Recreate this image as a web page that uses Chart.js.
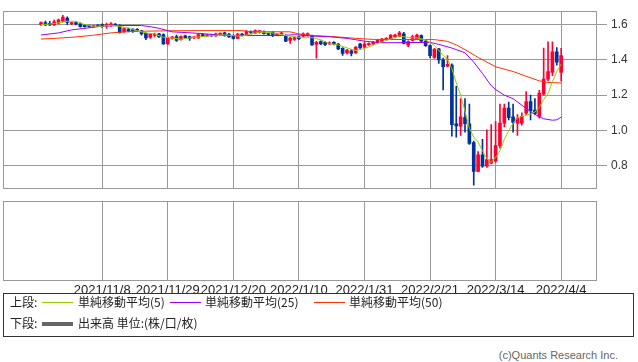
<!DOCTYPE html>
<html>
<head>
<meta charset="utf-8">
<script src="https://cdn.jsdelivr.net/npm/chart.js@4.4.1/dist/chart.umd.min.js"></script>
<style>
    body { margin: 0; background: #fff; width: 638px; height: 362px; position: relative; overflow: hidden;
           font-family: "Noto Sans CJK JP", "Noto Sans", sans-serif; color: #222; }
    #priceChart { position: absolute; left: 0; top: 0; }
    #volChart { position: absolute; left: 0; top: 195px; }
    .legend { position: absolute; left: 3px; top: 293px; width: 631px; height: 44px; border: 1px solid #333; box-sizing: border-box; }
    .lg { position: absolute; font-size: 12px; line-height: 14px; white-space: nowrap; }
    .ln { position: absolute; height: 1px; width: 31px; }
    .copy { position: absolute; right: 20px; top: 349px; font-size: 11px; color: #666; font-family: "Liberation Sans", sans-serif; }
</style>
</head>
<body>
<canvas id="priceChart" width="638" height="200"></canvas>
<canvas id="volChart" width="638" height="104"></canvas>

<div class="lg" style="left:10px;top:295px">上段:</div>
<div class="ln" style="left:42px;top:302px;background:#99cc00"></div>
<div class="lg" style="left:78px;top:295px">単純移動平均(5)</div>
<div class="ln" style="left:170px;top:302px;background:#9900ff"></div>
<div class="lg" style="left:205px;top:295px">単純移動平均(25)</div>
<div class="ln" style="left:314px;top:302px;background:#ff3300"></div>
<div class="lg" style="left:349px;top:295px">単純移動平均(50)</div>
<div class="lg" style="left:10px;top:316px">下段:</div>
<div class="ln" style="left:42px;top:322px;height:4px;background:#666"></div>
<div class="lg" style="left:78px;top:316px">出来高 単位:(株/口/枚)</div>
<div class="legend"></div>
<div class="copy">(c)Quants Research Inc.</div>

<script>
// x positions are trading-day indexes, 0 = first candle
const tickIdx = [14, 29, 44, 59, 74, 89, 104, 119];
const tickLabels = ['2021/11/8', '2021/11/29', '2021/12/20', '2022/1/10', '2022/1/31', '2022/2/21', '2022/3/14', '2022/4/4'];
const priceTicks = [0.8, 1.0, 1.2, 1.4, 1.6];

const opens = [1.600,1.612,1.607,1.598,1.608,1.620,1.637,1.605,1.612,1.605,
    1.598,1.594,1.590,1.595,1.600,1.591,1.595,1.602,1.595,1.560,
    1.575,1.573,1.572,1.564,1.550,1.527,1.538,1.547,1.543,1.490,
    1.522,1.532,1.515,1.536,1.532,1.525,1.525,1.543,1.536,1.540,
    1.536,1.543,1.553,1.545,1.538,1.522,1.546,1.541,1.560,1.552,
    1.556,1.560,1.549,1.556,1.542,1.546,1.538,1.510,1.516,1.530,
    1.534,1.537,1.535,1.488,1.504,1.500,1.490,1.500,1.490,1.465,
    1.440,1.452,1.440,1.490,1.472,1.486,1.490,1.497,1.500,1.515,
    1.518,1.530,1.532,1.547,1.484,1.511,1.517,1.538,1.506,1.481,
    1.414,1.462,1.400,1.364,1.371,1.038,1.024,1.073,1.038,0.931,
    0.767,0.861,0.797,0.815,0.825,0.914,1.041,1.127,1.077,1.041,
    1.041,1.098,1.164,1.116,1.079,1.206,1.291,1.329,1.446,1.329];
const highs = [1.616,1.620,1.618,1.625,1.632,1.652,1.644,1.615,1.616,1.610,
    1.602,1.598,1.598,1.600,1.604,1.608,1.612,1.606,1.600,1.580,
    1.580,1.578,1.578,1.568,1.553,1.550,1.552,1.550,1.548,1.530,
    1.533,1.540,1.536,1.540,1.535,1.532,1.547,1.548,1.545,1.544,
    1.552,1.553,1.558,1.550,1.542,1.550,1.550,1.566,1.565,1.570,
    1.568,1.564,1.552,1.560,1.550,1.556,1.542,1.528,1.531,1.534,
    1.554,1.554,1.540,1.505,1.508,1.505,1.502,1.504,1.494,1.470,
    1.460,1.458,1.476,1.494,1.502,1.497,1.505,1.515,1.522,1.526,
    1.544,1.546,1.562,1.556,1.508,1.540,1.546,1.542,1.510,1.486,
    1.465,1.466,1.410,1.424,1.377,1.250,1.180,1.180,1.150,0.940,
    0.880,0.950,1.004,1.033,1.050,1.150,1.150,1.160,1.150,1.090,
    1.100,1.220,1.200,1.180,1.228,1.467,1.503,1.503,1.470,1.465];
const lows = [1.595,1.594,1.594,1.595,1.604,1.615,1.600,1.598,1.598,1.585,
    1.585,1.586,1.586,1.588,1.584,1.578,1.590,1.594,1.552,1.556,
    1.558,1.555,1.562,1.540,1.515,1.522,1.530,1.527,1.488,1.487,
    1.518,1.505,1.512,1.522,1.511,1.520,1.522,1.532,1.532,1.533,
    1.533,1.540,1.535,1.527,1.518,1.520,1.536,1.538,1.550,1.548,
    1.552,1.546,1.540,1.532,1.538,1.542,1.503,1.493,1.510,1.515,
    1.530,1.534,1.482,1.410,1.486,1.480,1.486,1.485,1.458,1.425,
    1.432,1.423,1.436,1.465,1.468,1.482,1.486,1.494,1.497,1.512,
    1.515,1.527,1.530,1.490,1.475,1.508,1.514,1.503,1.476,1.413,
    1.408,1.380,1.230,1.360,0.967,0.962,0.972,0.990,0.920,0.690,
    0.765,0.790,0.790,0.810,0.820,0.900,1.020,1.060,0.990,0.972,
    1.030,1.090,1.060,1.090,1.070,1.200,1.280,1.310,1.370,1.280];
const closes = [1.611,1.598,1.598,1.616,1.627,1.642,1.612,1.611,1.602,1.588,
    1.588,1.590,1.594,1.592,1.588,1.602,1.605,1.598,1.556,1.577,
    1.563,1.561,1.568,1.547,1.525,1.547,1.546,1.530,1.490,1.525,
    1.529,1.511,1.532,1.525,1.522,1.528,1.543,1.536,1.540,1.536,
    1.547,1.550,1.538,1.530,1.522,1.546,1.540,1.562,1.555,1.566,
    1.566,1.548,1.544,1.540,1.546,1.552,1.506,1.524,1.527,1.520,
    1.548,1.549,1.485,1.500,1.490,1.487,1.497,1.490,1.462,1.437,
    1.455,1.437,1.472,1.468,1.490,1.492,1.500,1.511,1.518,1.522,
    1.540,1.540,1.554,1.494,1.504,1.532,1.541,1.506,1.481,1.424,
    1.460,1.400,1.361,1.375,1.032,1.026,1.077,1.038,0.926,0.767,
    0.861,0.797,0.834,0.834,0.914,1.041,1.127,1.073,1.045,1.068,
    1.080,1.164,1.111,1.095,1.212,1.291,1.334,1.446,1.387,1.424];

// moving averages: [index, value]
const ma5 = [[0,1.600],[2,1.603],[4,1.610],[6,1.619],[8,1.619],[10,1.600],[12,1.592],[14,1.590],[16,1.596],[18,1.590],
    [20,1.580],[22,1.565],[24,1.553],[26,1.547],[28,1.528],[30,1.524],[32,1.517],[34,1.524],[36,1.530],[38,1.534],
    [40,1.540],[42,1.542],[44,1.537],[46,1.535],[48,1.545],[50,1.558],[52,1.556],[54,1.549],[56,1.538],[58,1.531],
    [60,1.525],[62,1.526],[64,1.514],[66,1.492],[68,1.485],[70,1.468],[72,1.453],[74,1.464],[76,1.484],[78,1.502],
    [80,1.518],[82,1.535],[84,1.526],[86,1.525],[88,1.513],[90,1.482],[92,1.425],[93,1.404],[94,1.350],[95,1.270],
    [96,1.200],[97,1.110],[98,1.012],[99,0.962],[100,0.934],[101,0.885],[102,0.840],[103,0.819],[104,0.848],[105,0.884],
    [106,0.950],[107,0.998],[108,1.040],[109,1.071],[110,1.079],[111,1.086],[112,1.094],[113,1.104],[114,1.132],[115,1.175],
    [116,1.209],[117,1.276],[118,1.334],[119,1.376]];
const ma25 = [[0,1.541],[4,1.553],[7,1.570],[11,1.582],[14,1.591],[18,1.595],[23,1.595],[25,1.588],[27,1.579],[30,1.559],
    [35,1.552],[39,1.545],[42,1.538],[55,1.538],[58,1.543],[62,1.535],[66,1.531],[70,1.522],[74,1.506],[78,1.497],
    [89,1.499],[91,1.488],[94,1.467],[97,1.440],[99,1.387],[101,1.323],[103,1.254],[104,1.232],[106,1.200],[108,1.180],
    [111,1.125],[113,1.090],[115,1.066],[117,1.058],[118,1.060],[119,1.075]];
const ma50 = [[0,1.518],[4,1.523],[8,1.530],[12,1.540],[16,1.553],[20,1.560],[24,1.563],[30,1.565],[36,1.566],[46,1.566],
    [48,1.560],[57,1.559],[59,1.547],[61,1.540],[68,1.530],[72,1.522],[76,1.516],[90,1.515],[93,1.505],[95,1.485],
    [97,1.458],[100,1.414],[104,1.361],[108,1.334],[111,1.307],[114,1.281],[116,1.272],[119,1.269]];

const UP = '#ff0033';
const DOWN = '#003399';
const GRID = '#999999';
const X_MIN = -8.7;
const X_MAX = 127.2;

const candleColor = opens.map((o, i) => closes[i] >= o ? UP : DOWN);
const bodies = opens.map((o, i) => ({ x: i, y: [o, closes[i]] }));
const wicks = opens.map((o, i) => ({ x: i, y: [lows[i], highs[i]] }));
const toPts = arr => arr.map(p => ({ x: p[0], y: p[1] }));

// border around the plot area
const framePlugin = {
    id: 'frame',
    afterDraw(chart) {
        const a = chart.chartArea;
        const ctx = chart.ctx;
        ctx.save();
        ctx.strokeStyle = GRID;
        ctx.lineWidth = 1;
        ctx.strokeRect(Math.round(a.left) + 0.5, Math.round(a.top) + 0.5,
            Math.round(a.right - a.left) - 1, Math.round(a.bottom - a.top) - 1);
        ctx.restore();
    }
};

function xScale(showLabels) {
    return {
        type: 'linear',
        min: X_MIN,
        max: X_MAX,
        offset: false,
        afterBuildTicks: s => { s.ticks = tickIdx.map(v => ({ value: v })); },
        afterFit: s => { if (!showLabels) s.height = 0; },
        grid: { color: GRID, lineWidth: 1, drawTicks: false, offset: false },
        border: { display: false },
        ticks: {
            display: showLabels,
            autoSkip: false,
            maxRotation: 0,
            padding: 1,
            color: '#222',
            font: { family: '"Liberation Sans", sans-serif', size: 13 },
            callback: v => tickLabels[tickIdx.indexOf(v)] || ''
        }
    };
}

new Chart(document.getElementById('priceChart'), {
    type: 'bar',
    data: {
        datasets: [
            { type: 'line', data: toPts(ma5), borderColor: '#99cc00', borderWidth: 1, pointRadius: 0, tension: 0, order: 0 },
            { type: 'line', data: toPts(ma25), borderColor: '#9900ff', borderWidth: 1, pointRadius: 0, tension: 0, order: 0 },
            { type: 'line', data: toPts(ma50), borderColor: '#ff3300', borderWidth: 1, pointRadius: 0, tension: 0, order: 0 },
            { data: bodies, backgroundColor: candleColor, barThickness: 3, minBarLength: 1, grouped: false, order: 1 },
            { data: wicks, backgroundColor: candleColor, barThickness: 1, grouped: false, order: 2 }
        ]
    },
    options: {
        responsive: false,
        animation: false,
        events: [],
        layout: { padding: { left: 3, top: 0, bottom: 10, right: 0 } },
        plugins: { legend: { display: false }, tooltip: { enabled: false } },
        scales: {
            x: xScale(false),
            y: {
                position: 'right',
                min: 0.669,
                max: 1.676,
                afterBuildTicks: s => { s.ticks = priceTicks.map(v => ({ value: v })); },
                afterFit: s => { s.width = 41; },
                grid: { color: GRID, lineWidth: 1, tickLength: 10 },
                border: { display: false },
                ticks: {
                    padding: 4,
                    color: '#333',
                    font: { family: '"Liberation Sans", sans-serif', size: 12 },
                    callback: v => v.toFixed(1)
                }
            }
        }
    },
    plugins: [framePlugin]
});

new Chart(document.getElementById('volChart'), {
    type: 'bar',
    data: { datasets: [{ data: [] }] },
    options: {
        responsive: false,
        animation: false,
        events: [],
        layout: { padding: { left: 3, top: 6, bottom: 0, right: 0 } },
        plugins: { legend: { display: false }, tooltip: { enabled: false } },
        scales: {
            x: xScale(true),
            y: {
                position: 'right',
                min: 0,
                max: 1,
                afterFit: s => { s.width = 41; },
                grid: { display: false },
                border: { display: false },
                ticks: { display: false }
            }
        }
    },
    plugins: [framePlugin]
});
</script>
</body>
</html>
